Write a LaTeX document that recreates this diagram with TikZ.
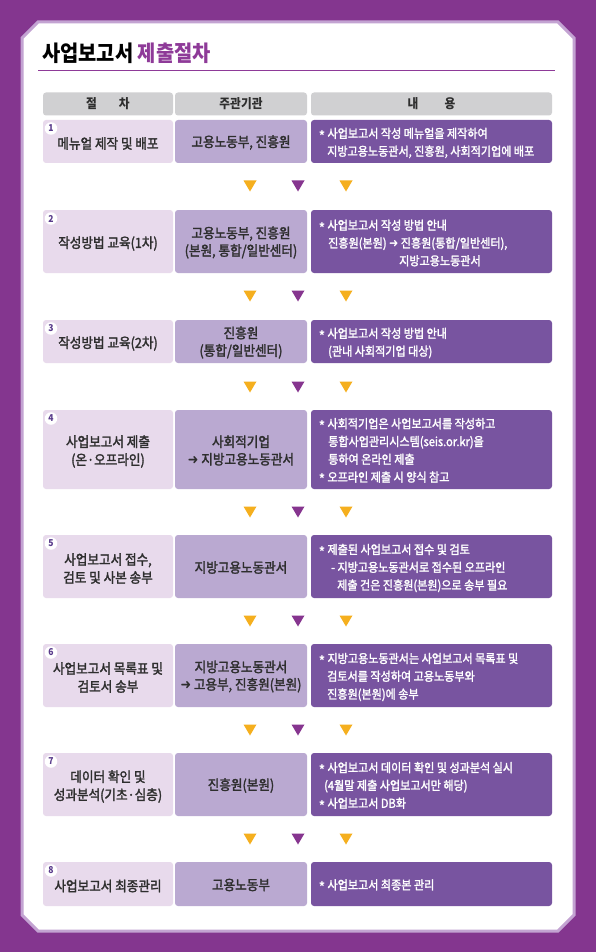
\documentclass[tikz,border=0pt]{standalone}
\usepackage{fontspec}
\setmainfont{Noto Sans CJK KR}[FakeStretch=0.9, UprightFeatures={FakeBold=2}]
\newfontfamily\symfont{DejaVu Sans}[FakeStretch=0.9]
\usetikzlibrary{calc}
\definecolor{bgpurple}{HTML}{84368F}
\definecolor{rim}{HTML}{C3A3D2}
\definecolor{titlepurple}{HTML}{8E3A98}
\definecolor{hdrgray}{HTML}{D0D0D2}
\definecolor{stepfill}{HTML}{E8DAEC}
\definecolor{orgfill}{HTML}{BAA9D1}
\definecolor{descfill}{HTML}{7854A0}
\definecolor{triorange}{HTML}{F5AF1E}
\definecolor{tripurple}{HTML}{86358F}
\definecolor{ink}{HTML}{2E2E2E}
\definecolor{numink}{HTML}{5A3C8C}
\newcommand\arr{{\symfont ➜}}
\newcommand\bul{\raisebox{-0.18em}{\bfseries *}}
\tikzset{
  hdrbox/.style={fill=hdrgray, rounded corners=3pt, inner sep=0, text=ink,
    font=\bfseries\fontsize{13}{13}\selectfont},
  stepbox/.style={fill=stepfill, rounded corners=3pt, minimum width=130, inner sep=0},
  orgbox/.style={fill=orgfill, rounded corners=3pt, minimum width=132, inner sep=0},
  descbox/.style={fill=descfill, rounded corners=3pt, minimum width=241, inner sep=0},
  numdot/.style={circle, fill=white, inner sep=0, minimum size=12.5, text=numink,
    font=\bfseries\fontsize{9.5}{9.5}\selectfont},
  steptext/.style={align=center, inner sep=0, text=ink, font=\fontsize{14}{18}\selectfont},
  orgtext/.style={align=center, inner sep=0, text=ink, font=\fontsize{14}{17.5}\selectfont},
  desctext/.style={anchor=west, align=left, inner sep=0, text=white,
    font=\fontsize{12.3}{17.8}\selectfont},
}
\newcommand\procrow[7]{%
  \node[stepbox, minimum height={#3-#2}] (s#1) at (108,{(#2+#3)/2}) {};
  \node[orgbox, minimum height={#3-#2}] (o#1) at (241,{(#2+#3)/2}) {};
  \node[descbox, minimum height={#3-#2}] (d#1) at (431.5,{(#2+#3)/2}) {};
  \node[numdot] (n#1) at (51,{#2+8.5}) {#4};
  \node[steptext] (st#1) at (108,{(#2+#3)/2+2}) {#5};
  \node[orgtext] (ot#1) at (241,{(#2+#3)/2+1}) {#6};
  \node[desctext] (dt#1) at (319,{(#2+#3)/2+1.5}) {#7};
}
\newcommand\downtris[1]{%
  \fill[triorange] (250,#1) ++(-6.5,-5.5) -- ++(13,0) -- ++(-6.5,11) -- cycle;
  \fill[tripurple] (298,#1) ++(-6.5,-5.5) -- ++(13,0) -- ++(-6.5,11) -- cycle;
  \fill[triorange] (346,#1) ++(-6.5,-5.5) -- ++(13,0) -- ++(-6.5,11) -- cycle;
}
\begin{document}
\begin{tikzpicture}[x=1pt,y=-1pt]
\useasboundingbox (0,0) rectangle (596,952);
\fill[bgpurple] (0,0) rectangle (596,952);
\filldraw[fill=white, draw=rim, line width=3, line join=miter]
  (22,38) -- (38,22) -- (558,22) -- (574,38) -- (574,915) -- (558,931) -- (38,931) -- (22,915) -- cycle;
\node[anchor=west, inner sep=0, text=black, font=\bfseries\fontsize{22}{22}\selectfont] (title) at (42,53)
  {사업보고서 {\color{titlepurple}제출절차}};
\draw[titlepurple, line width=1] (38,71) -- (555,71);
\node[hdrbox, minimum width=130, minimum height=23] (h1) at (108,104) {절\hspace{22pt}차};
\node[hdrbox, minimum width=132, minimum height=23] (h2) at (241,104) {주관기관};
\node[hdrbox, minimum width=241, minimum height=23] (h3) at (431.5,104) {내\hspace{26pt}용};
\procrow{1}{120}{163}{1}{메뉴얼 제작 및 배포}{고용노동부, 진흥원}
  {\bul{} 사업보고서 작성 메뉴얼을 제작하여\\\hspace*{8pt}지방고용노동관서, 진흥원, 사회적기업에 배포}
\downtris{186}
\procrow{2}{210}{273}{2}{작성방법 교육(1차)}{고용노동부, 진흥원\\(본원, 통합/일반센터)}
  {\bul{} 사업보고서 작성 방법 안내\\\hspace*{9pt}진흥원(본원) \arr{} 진흥원(통합/일반센터),\\\hspace*{80pt}지방고용노동관서}
\downtris{296}
\procrow{3}{320}{363}{3}{작성방법 교육(2차)}{진흥원\\(통합/일반센터)}
  {\bul{} 사업보고서 작성 방법 안내\\\hspace*{9pt}(관내 사회적기업 대상)}
\downtris{387}
\procrow{4}{410}{489}{4}{사업보고서 제출\\(온·오프라인)}{사회적기업\\\arr{} 지방고용노동관서}
  {\bul{} 사회적기업은 사업보고서를 작성하고\\\hspace*{9pt}통합사업관리시스템(seis.or.kr)을\\\hspace*{9pt}통하여 온라인 제출\\\bul{} 오프라인 제출 시 양식 참고}
\downtris{512}
\procrow{5}{535}{598}{5}{사업보고서 접수,\\검토 및 사본 송부}{지방고용노동관서}
  {\bul{} 제출된 사업보고서 접수 및 검토\\\hspace*{12pt}- 지방고용노동관서로 접수된 오프라인\\\hspace*{18pt}제출 건은 진흥원(본원)으로 송부 필요}
\downtris{621}
\procrow{6}{644}{707}{6}{사업보고서 목록표 및\\검토서 송부}{지방고용노동관서\\\arr{} 고용부, 진흥원(본원)}
  {\bul{} 지방고용노동관서는 사업보고서 목록표 및\\\hspace*{8pt}검토서를 작성하여 고용노동부와\\\hspace*{8pt}진흥원(본원)에 송부}
\downtris{730}
\procrow{7}{753}{816}{7}{데이터 확인 및\\성과분석(기초·심층)}{진흥원(본원)}
  {\bul{} 사업보고서 데이터 확인 및 성과분석 실시\\\hspace*{5pt}(4월말 제출 사업보고서만 해당)\\\bul{} 사업보고서 DB화}
\downtris{839}
\procrow{8}{862}{906}{8}{사업보고서 최종관리}{고용노동부}
  {\bul{} 사업보고서 최종본 관리}
\end{tikzpicture}
\end{document}
